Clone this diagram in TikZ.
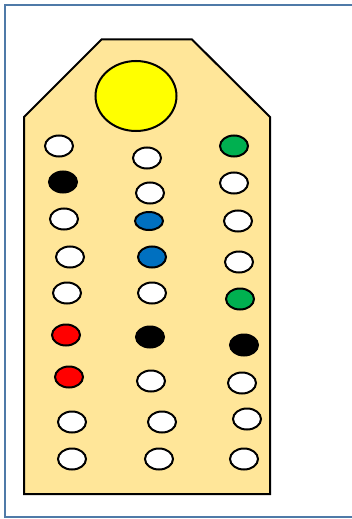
\documentclass[tikz,border=0pt]{standalone}
\usepackage{tikz}
\usepackage{xcolor}
\usetikzlibrary{shapes.geometric}
\definecolor{frame}  {HTML}{4F7AA8}
\definecolor{board}  {HTML}{FFE699}
\definecolor{peg}    {HTML}{FFFF00}
\definecolor{pblue}  {HTML}{0070C0}
\definecolor{pgreen} {HTML}{00B050}
\definecolor{pred}   {HTML}{FF0000}
\tikzset{
  hole/.style={ellipse,draw=black,line width=2pt,fill=white,inner sep=0pt,
               minimum width=28pt,minimum height=21pt},
  flat/.style={hole,minimum height=18pt},
}
\begin{document}
\begin{tikzpicture}[x=1pt,y=-1pt]
      \useasboundingbox (0,0) rectangle (352,519);
      \fill[white] (0,0) rectangle (352,519);
      \draw[frame,line width=2.6pt] (5,5) rectangle (360,517);
      \draw[black,fill=board,line width=2pt]
        (24,117) -- (101.5,39.5) -- (192,39.5) -- (270,117) -- (270,494) -- (24,494) -- cycle;
      \node[ellipse,draw=black,fill=peg,line width=2pt,inner sep=0pt,
            minimum width=81pt,minimum height=70pt] (sun) at (136,96) {};
      % left column
      \node[hole] (l1) at (59,146) {};
      \node[hole,fill=black] (l2) at (63,182) {};
      \node[hole] (l3) at (64,219) {};
      \node[hole] (l4) at (70,257) {};
      \node[hole] (l5) at (67,293) {};
      \node[hole,fill=pred] (l6) at (66,335) {};
      \node[hole,fill=pred] (l7) at (69,377) {};
      \node[hole] (l8) at (72,422) {};
      \node[hole] (l9) at (72,459) {};
      % middle column
      \node[hole] (m1) at (147,158) {};
      \node[hole] (m2) at (150,193) {};
      \node[flat,fill=pblue] (m3) at (149,221) {};
      \node[hole,fill=pblue] (m4) at (152,257) {};
      \node[hole] (m5) at (152,293) {};
      \node[hole,fill=black] (m6) at (150,337) {};
      \node[hole] (m7) at (151,381) {};
      \node[hole] (m8) at (162,422) {};
      \node[hole] (m9) at (159,459) {};
      % right column
      \node[hole,fill=pgreen] (r1) at (234,146) {};
      \node[hole] (r2) at (234,183) {};
      \node[hole] (r3) at (238,221) {};
      \node[hole] (r4) at (239,262) {};
      \node[hole,fill=pgreen] (r5) at (240,299) {};
      \node[hole,fill=black] (r6) at (244,345) {};
      \node[hole] (r7) at (242,383) {};
      \node[hole] (r8) at (247,419) {};
      \node[hole] (r9) at (244,459) {};
    \end{tikzpicture}
\end{document}
